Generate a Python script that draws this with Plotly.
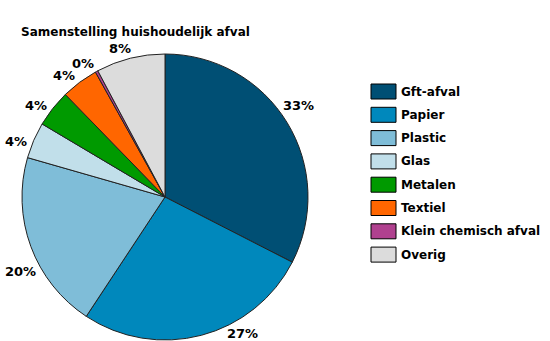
import math
import plotly.graph_objects as go

labels = ["Gft-afval", "Papier", "Plastic", "Glas", "Metalen", "Textiel", "Klein chemisch afval", "Overig"]
values = [32.6, 26.8, 20.2, 4.1, 4.2, 4.2, 0.3, 7.8]
colors = ["#004F74", "#0088BC", "#7FBDD8", "#C1DFEA", "#009A00", "#FF6600", "#B0418F", "#DCDCDC"]
title = "Samenstelling huishoudelijk afval"

W, H = 550, 341
FONT = "DejaVu Sans"
CX, CY, R = 165, 197, 143  # pie placement in pixels

fig = go.Figure(go.Pie(
    labels=labels, values=values, sort=False, direction="clockwise", rotation=0,
    marker=dict(colors=colors, line=dict(color="#222222", width=1)),
    textinfo="none", hoverinfo="label+percent", showlegend=False,
    domain=dict(x=[(CX - R) / W, (CX + R) / W], y=[1 - (CY + R) / H, 1 - (CY - R) / H]),
))

shapes = []
annotations = [dict(text="<b>" + title + "</b>", x=19 / W, y=1 - 32 / H, xref="paper", yref="paper",
                    xanchor="left", yanchor="middle", showarrow=False,
                    font=dict(family=FONT, size=12, color="#000000"))]

# percentage labels placed outside each slice, derived from the values
total = sum(values)
cum = 0.0
for v in values:
    mid = (cum + v / 2) / total * 360 - 3
    cum += v
    txt = "%d%%" % round(v / total * 100)
    w = 9 * (len(txt) - 1) + 13
    h = 12
    s, c = math.sin(math.radians(mid)), math.cos(math.radians(mid))
    D = R + 3 + w / 2 * abs(s) + h / 2 * abs(c)
    x, y = CX + D * s, CY - D * c
    if y > H - 8:
        y = H - 8
        x = CX + math.copysign(math.sqrt(max(D * D - (y - CY) ** 2, 0)), s)
    if x < 5 + w / 2:
        x = 5 + w / 2
        y = CY + math.copysign(math.sqrt(max(D * D - (x - CX) ** 2, 0)), -c)
    annotations.append(dict(text="<b>" + txt + "</b>", x=x / W, y=1 - y / H, xref="paper", yref="paper",
                            xanchor="center", yanchor="middle", showarrow=False,
                            font=dict(family=FONT, size=13, color="#000000")))

for i, (lab, col) in enumerate(zip(labels, colors)):
    top = 84 + 23.3 * i
    shapes.append(dict(type="rect", xref="paper", yref="paper",
                       x0=371 / W, x1=396 / W, y0=1 - (top + 15) / H, y1=1 - top / H,
                       fillcolor=col, line=dict(color="#000000", width=1)))
    annotations.append(dict(text="<b>" + lab + "</b>", x=399 / W, y=1 - (top + 7.5) / H,
                            xref="paper", yref="paper", xanchor="left", yanchor="middle",
                            showarrow=False, font=dict(family=FONT, size=12, color="#000000")))

fig.update_layout(width=W, height=H, margin=dict(l=0, r=0, t=0, b=0),
                  paper_bgcolor="#FFFFFF", plot_bgcolor="#FFFFFF",
                  shapes=shapes, annotations=annotations)
fig.write_html("out.html")
